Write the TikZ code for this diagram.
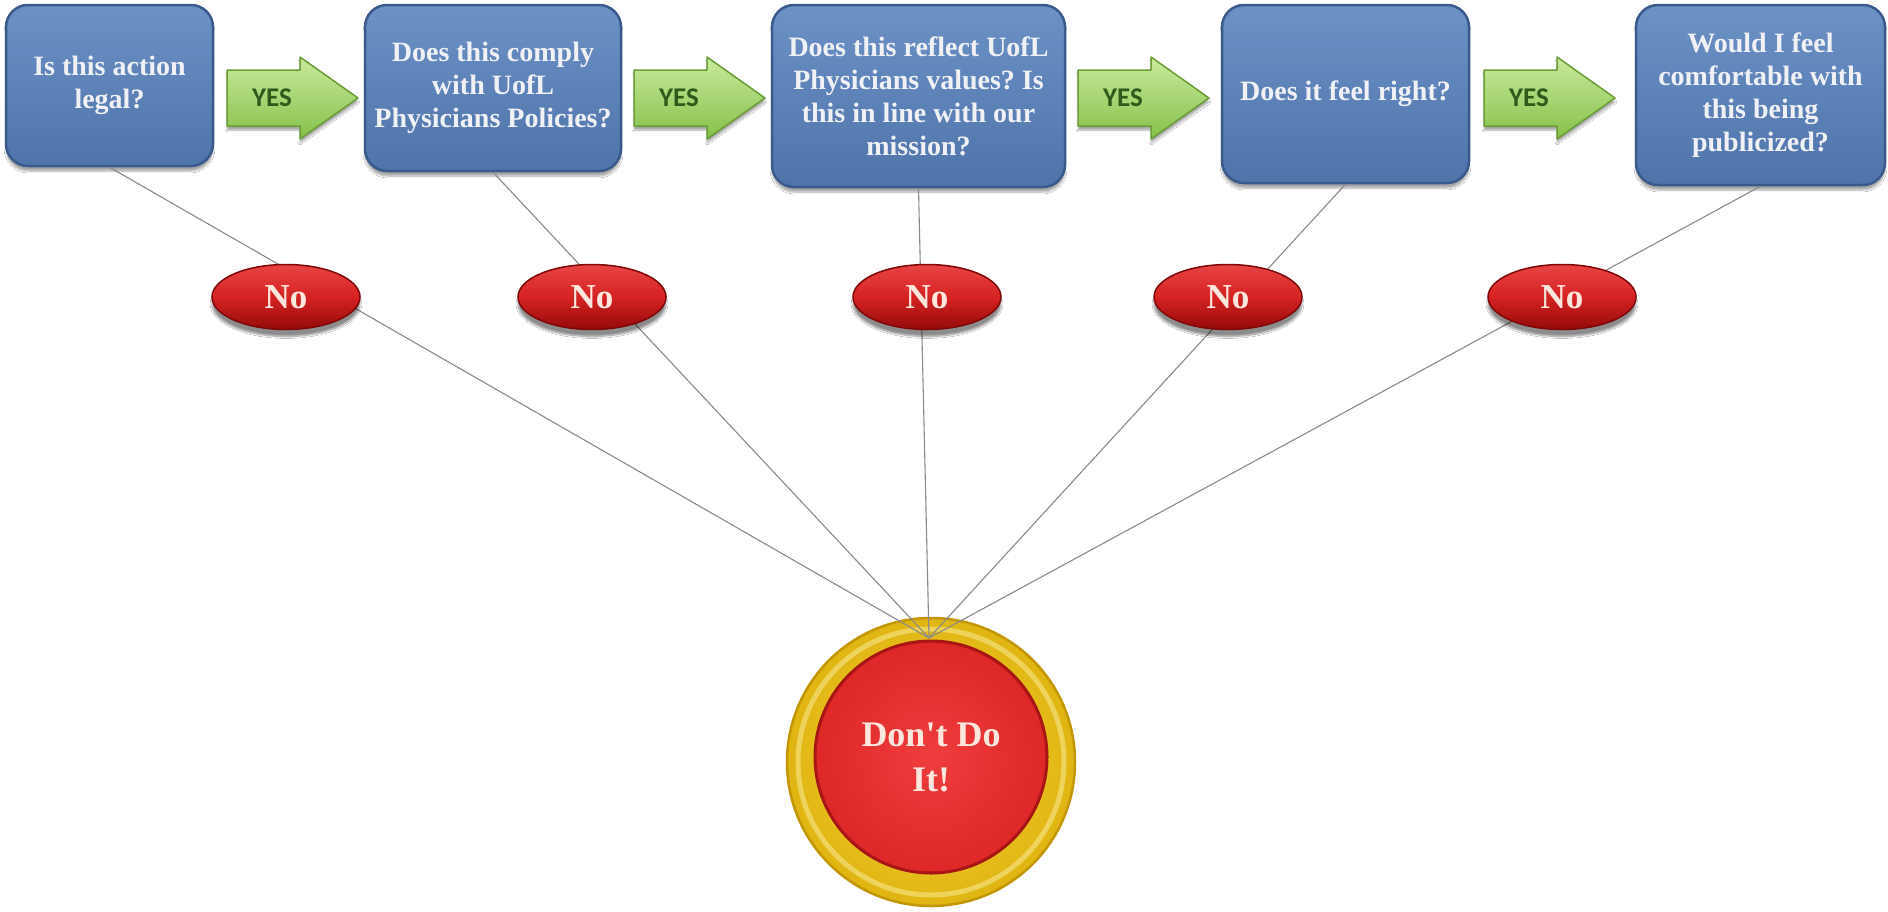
\documentclass[tikz,border=0pt]{standalone}
\usepackage{fontspec}
\setmainfont{Liberation Serif}
\newfontfamily\yesfont{Carlito}
\usetikzlibrary{shapes.geometric,shadows.blur}
\frenchspacing
\definecolor{boxtop}{HTML}{6C91C5}
\definecolor{boxbot}{HTML}{4F74AA}
\definecolor{boxedge}{HTML}{3A5A8C}
\definecolor{boxtext}{HTML}{F0F1F4}
\definecolor{grtop}{HTML}{C8EA9C}
\definecolor{grbot}{HTML}{86C04A}
\definecolor{gredge}{HTML}{6A9E35}
\definecolor{yestxt}{HTML}{2E5A1C}
\definecolor{redtop}{HTML}{E84444}
\definecolor{redmid}{HTML}{D62222}
\definecolor{redbot}{HTML}{950A0A}
\definecolor{rededge}{HTML}{7E0808}
\definecolor{notxt}{HTML}{FCE6DE}
\definecolor{goldin}{HTML}{F4D53A}
\definecolor{goldout}{HTML}{E0B512}
\definecolor{goldedge}{HTML}{C29600}
\definecolor{btnin}{HTML}{EF3C3C}
\definecolor{btnout}{HTML}{DE2828}
\definecolor{btnedge}{HTML}{A81515}
\definecolor{linkgray}{HTML}{8A8A8A}
\tikzset{
  qbox/.style={rectangle, rounded corners=22pt, top color=boxtop, bottom color=boxbot,
    draw=boxedge, line width=2.5pt, text=boxtext, align=center, inner sep=4pt,
    font=\fontsize{28}{33}\selectfont\bfseries,
    blur shadow={shadow xshift=0pt, shadow yshift=-5pt, shadow blur steps=8, shadow opacity=35}},
  arrowshape/.style={top color=grtop, bottom color=grbot, draw=gredge, line width=1.5pt,
    line join=round,
    blur shadow={shadow xshift=0pt, shadow yshift=-4pt, shadow blur steps=6, shadow opacity=35}},
  yestext/.style={text=yestxt, font=\yesfont\fontsize{27}{30}\selectfont\bfseries, inner sep=0pt},
  noell/.style={ellipse, minimum width=148pt, minimum height=65pt, inner sep=0pt,
    top color=redtop, bottom color=redbot, middle color=redmid, draw=rededge, line width=1.5pt,
    text=notxt, font=\fontsize{35}{38}\selectfont\bfseries,
    blur shadow={shadow xshift=0pt, shadow yshift=-7pt, shadow blur steps=8, shadow opacity=45}},
  link/.style={draw=linkgray, line width=1.1pt},
  goldring/.style={circle, minimum size=288pt, inner sep=0pt, inner color=goldin, outer color=goldout,
    draw=goldedge, line width=2.5pt},
  redbtn/.style={circle, minimum size=232pt, inner sep=0pt, inner color=btnin, outer color=btnout,
    draw=btnedge, line width=3pt, text=notxt, align=center,
    font=\fontsize{36}{45}\selectfont\bfseries}
}
\newcommand\yesarrow[1]{%
  \filldraw[arrowshape] (#1,70) -- (#1+73,70) -- (#1+73,57) -- (#1+131,98) -- (#1+73,139)
     -- (#1+73,126) -- (#1,126) -- cycle;}
\begin{document}
\begin{tikzpicture}[x=1pt,y=-1pt]
\useasboundingbox (0,0) rectangle (1888,911);
\fill[white] (0,0) rectangle (1888,911);

% question boxes
\node[qbox, minimum width=207pt, minimum height=161pt] (b1) at (109.5,85.5) {Is this action\\legal?};
\node[qbox, minimum width=256pt, minimum height=166pt] (b2) at (493,88) {Does this comply\\with UofL\\Physicians Policies?};
\node[qbox, minimum width=293pt, minimum height=182pt] (b3) at (918.5,96) {Does this reflect UofL\\Physicians values? Is\\this in line with our\\mission?};
\node[qbox, minimum width=247pt, minimum height=178pt] (b4) at (1345.5,94) {Does it feel right?};
\node[qbox, minimum width=249pt, minimum height=180pt] (b5) at (1760.5,95) {Would I feel\\comfortable with\\this being\\publicized?};

% YES arrows
\yesarrow{227}
\node[yestext] (y1) at (272,98) {YES};
\yesarrow{634}
\node[yestext] (y2) at (679,98) {YES};
\yesarrow{1078}
\node[yestext] (y3) at (1123,98) {YES};
\yesarrow{1484}
\node[yestext] (y4) at (1529,98) {YES};

% stop button
\node[goldring] (ring) at (931,762) {};
\draw[draw=goldin!60!white, line width=5pt, opacity=0.6] (ring.center) circle[radius=133pt];
\node[redbtn] (btn) at (931,757) {Don\textquotesingle t Do\\It!};
\coordinate (conv) at (929,638);

% connectors
\draw[link] (b1.south) -- (conv);
\draw[link] (b2.south) -- (conv);
\draw[link] (b3.south) -- (conv);
\draw[link] (b4.south) -- (conv);
\draw[link] (b5.south) -- (conv);

% No ellipses
\node[noell] (n1) at (286,297) {No};
\node[noell] (n2) at (592,297) {No};
\node[noell] (n3) at (927,297) {No};
\node[noell] (n4) at (1228,297) {No};
\node[noell] (n5) at (1562,297) {No};
\end{tikzpicture}
\end{document}
